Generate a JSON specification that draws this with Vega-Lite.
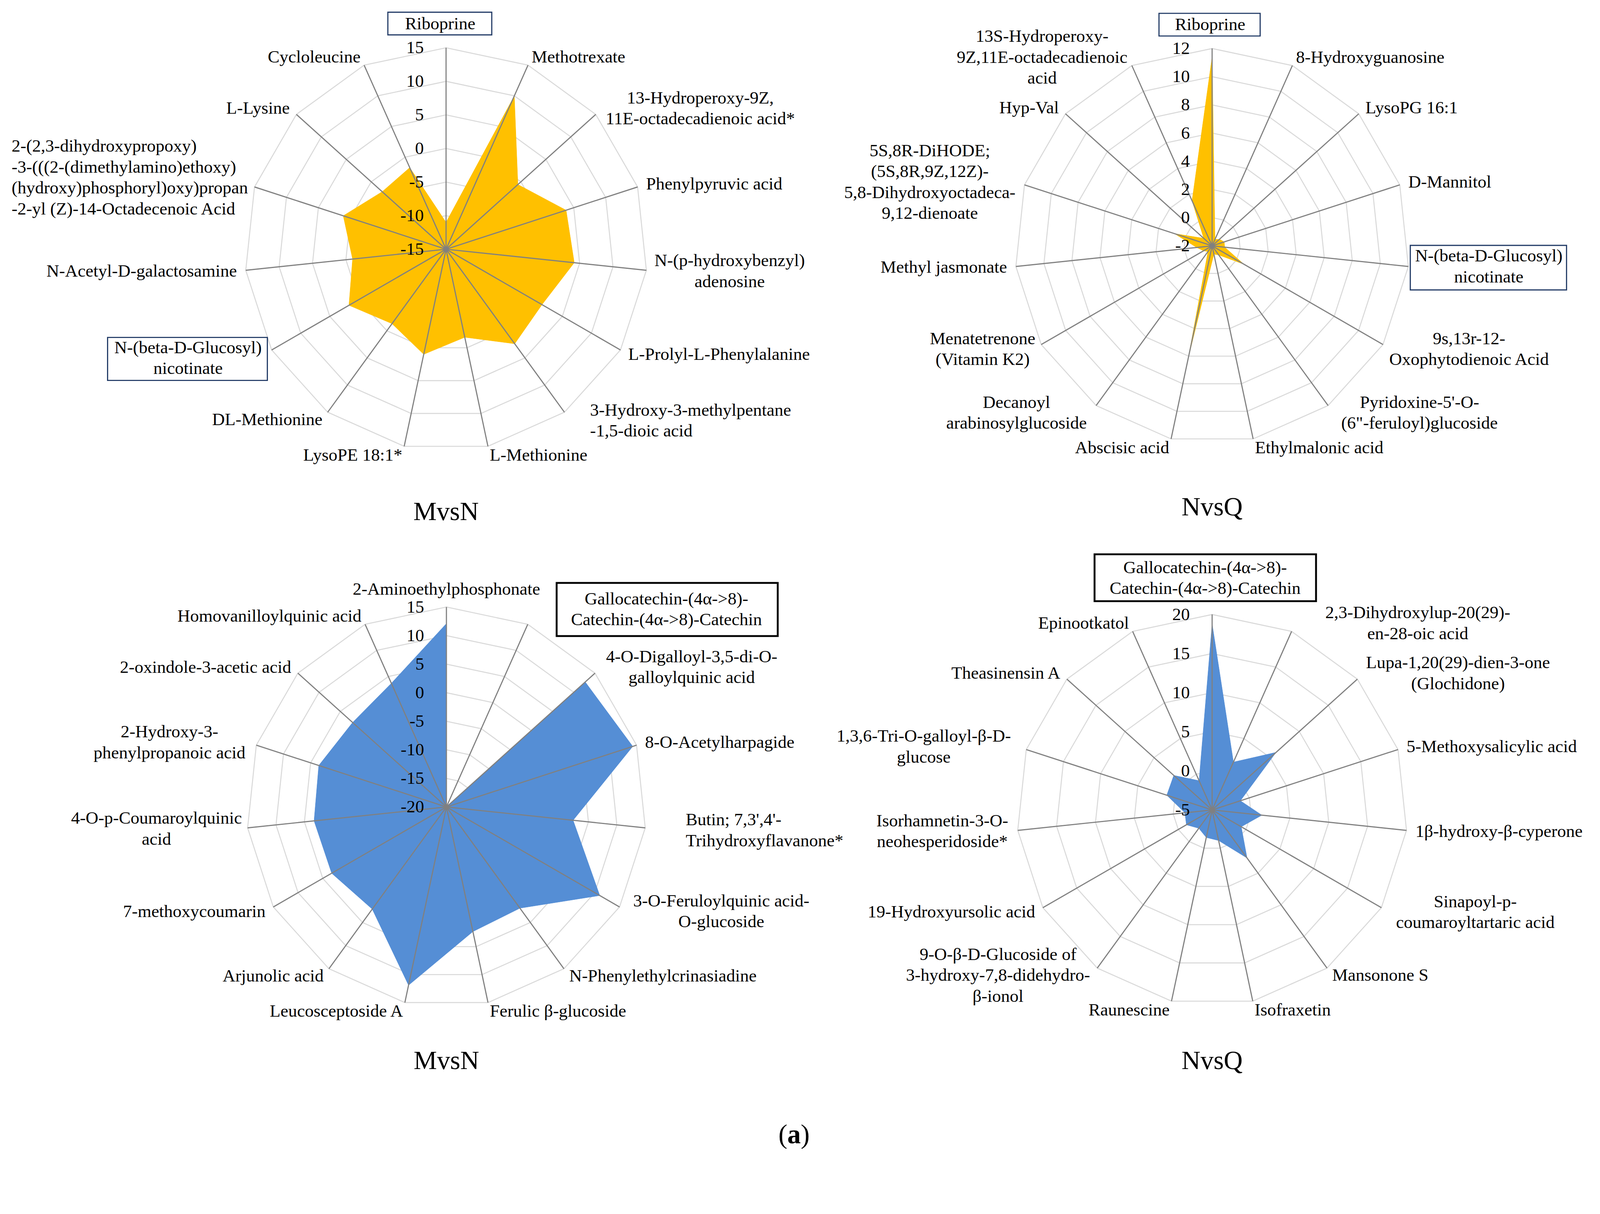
{
"$schema": "https://vega.github.io/schema/vega-lite/v6.json",
"padding": 0,
"background": "white",
"spacing": 0,
"bounds": "flush",
"columns": 2,
"config": {"view": {"stroke": null}, "text": {"font": "Liberation Serif", "fontSize": 45, "color": "#000000", "baseline": "middle", "lineBreak": "\n", "lineHeight": 53.5}},
"datasets": {
"tl": [
{"i":0,"name":"Riboprine","v":-11},
{"i":1,"name":"Methotrexate","v":10},
{"i":2,"name":"13-Hydroperoxy-9Z,\n11E-octadecadienoic acid*","v":-0.6},
{"i":3,"name":"Phenylpyruvic acid","v":3.8},
{"i":4,"name":"N-(p-hydroxybenzyl)\nadenosine","v":4.2},
{"i":5,"name":"L-Prolyl-L-Phenylalanine","v":1.5},
{"i":6,"name":"3-Hydroxy-3-methylpentane\n-1,5-dioic acid","v":2.4},
{"i":7,"name":"L-Methionine","v":-1.6},
{"i":8,"name":"LysoPE 18:1*","v":1.0},
{"i":9,"name":"DL-Methionine","v":-1.3},
{"i":10,"name":"N-(beta-D-Glucosyl)\nnicotinate","v":1.7},
{"i":11,"name":"N-Acetyl-D-galactosamine","v":-1.0},
{"i":12,"name":"2-(2,3-dihydroxypropoxy)\n-3-(((2-(dimethylamino)ethoxy)\n(hydroxy)phosphoryl)oxy)propan\n-2-yl (Z)-14-Octadecenoic Acid","v":1.1},
{"i":13,"name":"L-Lysine","v":-2.2},
{"i":14,"name":"Cycloleucine","v":-1.7}
],
"tr": [
{"i":0,"name":"Riboprine","v":11.4},
{"i":1,"name":"8-Hydroxyguanosine","v":-1.5},
{"i":2,"name":"LysoPG 16:1","v":-1.3},
{"i":3,"name":"D-Mannitol","v":-1.1},
{"i":4,"name":"N-(beta-D-Glucosyl)\nnicotinate","v":-1.1},
{"i":5,"name":"9s,13r-12-\nOxophytodienoic Acid","v":0.6},
{"i":6,"name":"Pyridoxine-5'-O-\n(6\"-feruloyl)glucoside","v":-1.2},
{"i":7,"name":"Ethylmalonic acid","v":-1.4},
{"i":8,"name":"Abscisic acid","v":6.1},
{"i":9,"name":"Decanoyl\narabinosylglucoside","v":-1.5},
{"i":10,"name":"Menatetrenone\n(Vitamin K2)","v":-1.3},
{"i":11,"name":"Methyl jasmonate","v":-0.9},
{"i":12,"name":"5S,8R-DiHODE;\n(5S,8R,9Z,12Z)-\n5,8-Dihydroxyoctadeca-\n9,12-dienoate","v":0.8},
{"i":13,"name":"Hyp-Val","v":-1.2},
{"i":14,"name":"13S-Hydroperoxy-\n9Z,11E-octadecadienoic\nacid","v":1.5}
],
"bl": [
{"i":0,"name":"2-Aminoethylphosphonate","v":12.1},
{"i":1,"name":"Gallocatechin-(4α->8)-\nCatechin-(4α->8)-Catechin","v":-20},
{"i":2,"name":"4-O-Digalloyl-3,5-di-O-\ngalloylquinic acid","v":12.7},
{"i":3,"name":"8-O-Acetylharpagide","v":14.3},
{"i":4,"name":"Butin; 7,3',4'-\nTrihydroxyflavanone*","v":2.3},
{"i":5,"name":"3-O-Feruloylquinic acid-\nO-glucoside","v":11},
{"i":6,"name":"N-Phenylethylcrinasiadine","v":1.9},
{"i":7,"name":"Ferulic β-glucoside","v":2.3},
{"i":8,"name":"Leucosceptoside A","v":11.9},
{"i":9,"name":"Arjunolic acid","v":2.1},
{"i":10,"name":"7-methoxycoumarin","v":3.2},
{"i":11,"name":"4-O-p-Coumaroylquinic\nacid","v":3.3},
{"i":12,"name":"2-Hydroxy-3-\nphenylpropanoic acid","v":3.5},
{"i":13,"name":"2-oxindole-3-acetic acid","v":2.1},
{"i":14,"name":"Homovanilloylquinic acid","v":3.7}
],
"br": [
{"i":0,"name":"Gallocatechin-(4α->8)-\nCatechin-(4α->8)-Catechin","v":18.8},
{"i":1,"name":"2,3-Dihydroxylup-20(29)-\nen-28-oic acid","v":1.7},
{"i":2,"name":"Lupa-1,20(29)-dien-3-one\n(Glochidone)","v":6.0},
{"i":3,"name":"5-Methoxysalicylic acid","v":-1.2},
{"i":4,"name":"1β-hydroxy-β-cyperone","v":1.4},
{"i":5,"name":"Sinapoyl-p-\ncoumaroyltartaric acid","v":-0.7},
{"i":6,"name":"Mansonone S","v":2.6},
{"i":7,"name":"Isofraxetin","v":-1.0},
{"i":8,"name":"Raunescine","v":-1.4},
{"i":9,"name":"9-O-β-D-Glucoside of\n3-hydroxy-7,8-didehydro-\nβ-ionol","v":-2.1},
{"i":10,"name":"19-Hydroxyursolic acid","v":-1.2},
{"i":11,"name":"Isorhamnetin-3-O-\nneohesperidoside*","v":-1.5},
{"i":12,"name":"1,3,6-Tri-O-galloyl-β-D-\nglucose","v":1.1},
{"i":13,"name":"Theasinensin A","v":1.6},
{"i":14,"name":"Epinootkatol","v":-0.9}
],
"ringsTL": [
{"ring":-15,"ks":[0,1,2,3,4,5,6,7,8,9,10,11,12,13,14]},
{"ring":-10,"ks":[0,1,2,3,4,5,6,7,8,9,10,11,12,13,14]},
{"ring":-5,"ks":[0,1,2,3,4,5,6,7,8,9,10,11,12,13,14]},
{"ring":0,"ks":[0,1,2,3,4,5,6,7,8,9,10,11,12,13,14]},
{"ring":5,"ks":[0,1,2,3,4,5,6,7,8,9,10,11,12,13,14]},
{"ring":10,"ks":[0,1,2,3,4,5,6,7,8,9,10,11,12,13,14]},
{"ring":15,"ks":[0,1,2,3,4,5,6,7,8,9,10,11,12,13,14]}
],
"ringsTR": [
{"ring":-2,"ks":[0,1,2,3,4,5,6,7,8,9,10,11,12,13,14]},
{"ring":0,"ks":[0,1,2,3,4,5,6,7,8,9,10,11,12,13,14]},
{"ring":2,"ks":[0,1,2,3,4,5,6,7,8,9,10,11,12,13,14]},
{"ring":4,"ks":[0,1,2,3,4,5,6,7,8,9,10,11,12,13,14]},
{"ring":6,"ks":[0,1,2,3,4,5,6,7,8,9,10,11,12,13,14]},
{"ring":8,"ks":[0,1,2,3,4,5,6,7,8,9,10,11,12,13,14]},
{"ring":10,"ks":[0,1,2,3,4,5,6,7,8,9,10,11,12,13,14]},
{"ring":12,"ks":[0,1,2,3,4,5,6,7,8,9,10,11,12,13,14]}
],
"ringsBL": [
{"ring":-20,"ks":[0,1,2,3,4,5,6,7,8,9,10,11,12,13,14]},
{"ring":-15,"ks":[0,1,2,3,4,5,6,7,8,9,10,11,12,13,14]},
{"ring":-10,"ks":[0,1,2,3,4,5,6,7,8,9,10,11,12,13,14]},
{"ring":-5,"ks":[0,1,2,3,4,5,6,7,8,9,10,11,12,13,14]},
{"ring":0,"ks":[0,1,2,3,4,5,6,7,8,9,10,11,12,13,14]},
{"ring":5,"ks":[0,1,2,3,4,5,6,7,8,9,10,11,12,13,14]},
{"ring":10,"ks":[0,1,2,3,4,5,6,7,8,9,10,11,12,13,14]},
{"ring":15,"ks":[0,1,2,3,4,5,6,7,8,9,10,11,12,13,14]}
],
"ringsBR": [
{"ring":-5,"ks":[0,1,2,3,4,5,6,7,8,9,10,11,12,13,14]},
{"ring":0,"ks":[0,1,2,3,4,5,6,7,8,9,10,11,12,13,14]},
{"ring":5,"ks":[0,1,2,3,4,5,6,7,8,9,10,11,12,13,14]},
{"ring":10,"ks":[0,1,2,3,4,5,6,7,8,9,10,11,12,13,14]},
{"ring":15,"ks":[0,1,2,3,4,5,6,7,8,9,10,11,12,13,14]},
{"ring":20,"ks":[0,1,2,3,4,5,6,7,8,9,10,11,12,13,14]}
]
},
"concat": [
{
"width": 2048, "height": 1375,
"encoding": {
"x": {"field": "px", "type": "quantitative", "scale": {"domain": [-2.2148, 1.7574], "nice": false, "zero": false}, "axis": null},
"y": {"field": "py", "type": "quantitative", "scale": {"domain": [-1.4296, 1.2370], "nice": false, "zero": false}, "axis": null}
},
"layer": [
{"data": {"name": "ringsTL"}, "transform": [{"flatten": ["ks"]}, {"calculate": "datum.ks*2*PI/15", "as": "ang"}, {"calculate": "(datum.ring+15)/30", "as": "rr"}, {"calculate": "datum.rr*sin(datum.ang)", "as": "px"}, {"calculate": "datum.rr*cos(datum.ang)", "as": "py"}],
 "mark": {"type": "line", "interpolate": "linear-closed", "stroke": "#D9D9D9", "strokeWidth": 2.6},
 "encoding": {"detail": {"field": "ring"}, "order": {"field": "ks"}}},
{"data": {"name": "tl"}, "transform": [{"calculate": "datum.i*2*PI/15", "as": "ang"}, {"calculate": "(datum.v+15)/30", "as": "rr"}, {"calculate": "datum.rr*sin(datum.ang)", "as": "px"}, {"calculate": "datum.rr*cos(datum.ang)", "as": "py"}],
 "mark": {"type": "line", "interpolate": "linear-closed", "fill": "#FFC000", "stroke": "#FFC000", "strokeWidth": 1},
 "encoding": {"order": {"field": "i"}}},
{"data": {"name": "tl"}, "transform": [{"calculate": "datum.i*2*PI/15", "as": "ang"}, {"calculate": "sin(datum.ang)", "as": "px"}, {"calculate": "cos(datum.ang)", "as": "py"}],
 "mark": {"type": "rule", "stroke": "#808080", "strokeWidth": 2.9},
 "encoding": {"x2": {"datum": 0}, "y2": {"datum": 0}}},
{"data": {"name": "ringsTL"}, "transform": [{"calculate": "0", "as": "px"}, {"calculate": "(datum.ring+15)/30", "as": "py"}, {"calculate": "'' + datum.ring", "as": "lbl"}],
 "mark": {"type": "text", "align": "right", "dx": -57},
 "encoding": {"text": {"field": "lbl"}}},
{"data": {"name": "tl"}, "transform": [{"filter": "datum.i>=1 && datum.i<=7 && indexof(datum.name,'\\n')<0"}, {"calculate": "datum.i*2*PI/15", "as": "ang"}, {"calculate": "sin(datum.ang)*1.04444", "as": "px"}, {"calculate": "cos(datum.ang)*1.04444", "as": "py"}],
 "mark": {"type": "text", "align": "left"}, "encoding": {"text": {"field": "name"}}},
{"data": {"name": "tl"}, "transform": [{"filter": "datum.i>=8 && indexof(datum.name,'\\n')<0"}, {"calculate": "datum.i*2*PI/15", "as": "ang"}, {"calculate": "sin(datum.ang)*1.04444", "as": "px"}, {"calculate": "cos(datum.ang)*1.04444", "as": "py"}],
 "mark": {"type": "text", "align": "right"}, "encoding": {"text": {"field": "name"}}},
{"data": {"name": "tl"}, "transform": [{"filter": "indexof(datum.name,'\\n')>=0 && datum.i!=10 && datum.i!=6 && datum.i!=12"}, {"calculate": "datum.i*2*PI/15", "as": "ang"}, {"calculate": "length(split(datum.name,'\\n'))", "as": "nl"}, {"calculate": "max(length(split(datum.name+'\\n\\n\\n','\\n')[0]),length(split(datum.name+'\\n\\n\\n','\\n')[1]),length(split(datum.name+'\\n\\n\\n','\\n')[2]),length(split(datum.name+'\\n\\n\\n','\\n')[3]))", "as": "mw"}, {"calculate": "sin(datum.ang)*1.04444+(sin(datum.ang)>0?1:-1)*datum.mw*0.019444", "as": "px"}, {"calculate": "cos(datum.ang)*1.04444+(datum.nl-1)*0.05185", "as": "py"}],
 "mark": {"type": "text", "align": "center"}, "encoding": {"text": {"field": "name"}}},
{"data": {"name": "tl"}, "transform": [{"filter": "datum.i==6"}, {"calculate": "datum.i*2*PI/15", "as": "ang"}, {"calculate": "sin(datum.ang)*1.04444", "as": "px"}, {"calculate": "cos(datum.ang)*1.04444", "as": "py"}],
 "mark": {"type": "text", "align": "left", "dx": 52, "dy": -24}, "encoding": {"text": {"field": "name"}}},
{"data": {"name": "tl"}, "transform": [{"filter": "datum.i==12"}, {"calculate": "datum.i*2*PI/15", "as": "ang"}, {"calculate": "sin(datum.ang)*1.04444", "as": "px"}, {"calculate": "cos(datum.ang)*1.04444", "as": "py"}],
 "mark": {"type": "text", "align": "left", "dx": -600, "dy": -97}, "encoding": {"text": {"field": "name"}}},
{"data": {"name": "tl"}, "transform": [{"filter": "datum.i==0"}, {"calculate": "datum.i*2*PI/15", "as": "ang"}, {"calculate": "sin(datum.ang)", "as": "px"}, {"calculate": "cos(datum.ang)", "as": "py"}],
 "mark": {"type": "text", "align": "center", "dx": -15, "dy": -61}, "encoding": {"text": {"field": "name"}}},
{"data": {"name": "tl"}, "transform": [{"filter": "datum.i==0"}, {"calculate": "datum.i*2*PI/15", "as": "ang"}, {"calculate": "sin(datum.ang)", "as": "px"}, {"calculate": "cos(datum.ang)", "as": "py"}],
 "mark": {"type": "point", "shape": "M-149,-91H117V-33H-149Z", "size": 4, "filled": false, "stroke": "#1F3864", "strokeWidth": 2.9, "opacity": 1}},
{"data": {"name": "tl"}, "transform": [{"filter": "datum.i==10"}, {"calculate": "datum.i*2*PI/15", "as": "ang"}, {"calculate": "sin(datum.ang)", "as": "px"}, {"calculate": "cos(datum.ang)", "as": "py"}],
 "mark": {"type": "text", "align": "center", "dx": -214, "dy": -6}, "encoding": {"text": {"field": "name"}}},
{"data": {"name": "tl"}, "transform": [{"filter": "datum.i==10"}, {"calculate": "datum.i*2*PI/15", "as": "ang"}, {"calculate": "sin(datum.ang)", "as": "px"}, {"calculate": "cos(datum.ang)", "as": "py"}],
 "mark": {"type": "point", "shape": "M-420,-32H-11V78H-420Z", "size": 4, "filled": false, "stroke": "#1F3864", "strokeWidth": 2.9, "opacity": 1}},
{"data": {"values": [{"t": "MvsN"}]}, "transform": [{"calculate": "0", "as": "px"}, {"calculate": "-1.3056", "as": "py"}],
 "mark": {"type": "text", "align": "center", "fontSize": 67}, "encoding": {"text": {"field": "t"}}}
]
},
{
"width": 2048, "height": 1375,
"encoding": {
"x": {"field": "px", "type": "quantitative", "scale": {"domain": [-2.0888, 1.9660], "nice": false, "zero": false}, "axis": null},
"y": {"field": "py", "type": "quantitative", "scale": {"domain": [-1.4764, 1.2457], "nice": false, "zero": false}, "axis": null}
},
"layer": [
{"data": {"name": "ringsTR"}, "transform": [{"flatten": ["ks"]}, {"calculate": "datum.ks*2*PI/15", "as": "ang"}, {"calculate": "(datum.ring+2)/14", "as": "rr"}, {"calculate": "datum.rr*sin(datum.ang)", "as": "px"}, {"calculate": "datum.rr*cos(datum.ang)", "as": "py"}],
 "mark": {"type": "line", "interpolate": "linear-closed", "stroke": "#D9D9D9", "strokeWidth": 2.6},
 "encoding": {"detail": {"field": "ring"}, "order": {"field": "ks"}}},
{"data": {"name": "tr"}, "transform": [{"calculate": "datum.i*2*PI/15", "as": "ang"}, {"calculate": "(datum.v+2)/14", "as": "rr"}, {"calculate": "datum.rr*sin(datum.ang)", "as": "px"}, {"calculate": "datum.rr*cos(datum.ang)", "as": "py"}],
 "mark": {"type": "line", "interpolate": "linear-closed", "fill": "#FFC000", "stroke": "#FFC000", "strokeWidth": 1},
 "encoding": {"order": {"field": "i"}}},
{"data": {"name": "tr"}, "transform": [{"calculate": "datum.i*2*PI/15", "as": "ang"}, {"calculate": "sin(datum.ang)", "as": "px"}, {"calculate": "cos(datum.ang)", "as": "py"}],
 "mark": {"type": "rule", "stroke": "#808080", "strokeWidth": 2.9},
 "encoding": {"x2": {"datum": 0}, "y2": {"datum": 0}}},
{"data": {"name": "ringsTR"}, "transform": [{"calculate": "0", "as": "px"}, {"calculate": "(datum.ring+2)/14", "as": "py"}, {"calculate": "'' + datum.ring", "as": "lbl"}],
 "mark": {"type": "text", "align": "right", "dx": -57},
 "encoding": {"text": {"field": "lbl"}}},
{"data": {"name": "tr"}, "transform": [{"filter": "datum.i>=1 && datum.i<=7 && indexof(datum.name,'\\n')<0"}, {"calculate": "datum.i*2*PI/15", "as": "ang"}, {"calculate": "sin(datum.ang)*1.04537", "as": "px"}, {"calculate": "cos(datum.ang)*1.04537", "as": "py"}],
 "mark": {"type": "text", "align": "left"}, "encoding": {"text": {"field": "name"}}},
{"data": {"name": "tr"}, "transform": [{"filter": "datum.i>=8 && indexof(datum.name,'\\n')<0"}, {"calculate": "datum.i*2*PI/15", "as": "ang"}, {"calculate": "sin(datum.ang)*1.04537", "as": "px"}, {"calculate": "cos(datum.ang)*1.04537", "as": "py"}],
 "mark": {"type": "text", "align": "right"}, "encoding": {"text": {"field": "name"}}},
{"data": {"name": "tr"}, "transform": [{"filter": "indexof(datum.name,'\\n')>=0 && datum.i!=4"}, {"calculate": "datum.i*2*PI/15", "as": "ang"}, {"calculate": "length(split(datum.name,'\\n'))", "as": "nl"}, {"calculate": "max(length(split(datum.name+'\\n\\n\\n','\\n')[0]),length(split(datum.name+'\\n\\n\\n','\\n')[1]),length(split(datum.name+'\\n\\n\\n','\\n')[2]),length(split(datum.name+'\\n\\n\\n','\\n')[3]))", "as": "mw"}, {"calculate": "sin(datum.ang)*1.04537+(sin(datum.ang)>0?1:-1)*datum.mw*0.019849", "as": "px"}, {"calculate": "cos(datum.ang)*1.04537+(datum.nl-1)*0.05293", "as": "py"}],
 "mark": {"type": "text", "align": "center"}, "encoding": {"text": {"field": "name"}}},
{"data": {"name": "tr"}, "transform": [{"filter": "datum.i==0"}, {"calculate": "datum.i*2*PI/15", "as": "ang"}, {"calculate": "sin(datum.ang)", "as": "px"}, {"calculate": "cos(datum.ang)", "as": "py"}],
 "mark": {"type": "text", "align": "center", "dx": -5, "dy": -61}, "encoding": {"text": {"field": "name"}}},
{"data": {"name": "tr"}, "transform": [{"filter": "datum.i==0"}, {"calculate": "datum.i*2*PI/15", "as": "ang"}, {"calculate": "sin(datum.ang)", "as": "px"}, {"calculate": "cos(datum.ang)", "as": "py"}],
 "mark": {"type": "point", "shape": "M-136,-90H123V-32H-136Z", "size": 4, "filled": false, "stroke": "#1F3864", "strokeWidth": 2.9, "opacity": 1}},
{"data": {"name": "tr"}, "transform": [{"filter": "datum.i==4"}, {"calculate": "datum.i*2*PI/15", "as": "ang"}, {"calculate": "sin(datum.ang)", "as": "px"}, {"calculate": "cos(datum.ang)", "as": "py"}],
 "mark": {"type": "text", "align": "center", "dx": 206, "dy": -27}, "encoding": {"text": {"field": "name"}}},
{"data": {"name": "tr"}, "transform": [{"filter": "datum.i==4"}, {"calculate": "datum.i*2*PI/15", "as": "ang"}, {"calculate": "sin(datum.ang)", "as": "px"}, {"calculate": "cos(datum.ang)", "as": "py"}],
 "mark": {"type": "point", "shape": "M5,-54H405V60H5Z", "size": 4, "filled": false, "stroke": "#1F3864", "strokeWidth": 2.9, "opacity": 1}},
{"data": {"values": [{"t": "NvsQ"}]}, "transform": [{"calculate": "0", "as": "px"}, {"calculate": "-1.325", "as": "py"}],
 "mark": {"type": "text", "align": "center", "fontSize": 67}, "encoding": {"text": {"field": "t"}}}
]
},
{
"width": 2048, "height": 1413,
"encoding": {
"x": {"field": "px", "type": "quantitative", "scale": {"domain": [-2.2332, 1.7687], "nice": false, "zero": false}, "axis": null},
"y": {"field": "py", "type": "quantitative", "scale": {"domain": [-1.4123, 1.3489], "nice": false, "zero": false}, "axis": null}
},
"layer": [
{"data": {"name": "ringsBL"}, "transform": [{"flatten": ["ks"]}, {"calculate": "datum.ks*2*PI/15", "as": "ang"}, {"calculate": "(datum.ring+20)/35", "as": "rr"}, {"calculate": "datum.rr*sin(datum.ang)", "as": "px"}, {"calculate": "datum.rr*cos(datum.ang)", "as": "py"}],
 "mark": {"type": "line", "interpolate": "linear-closed", "stroke": "#D9D9D9", "strokeWidth": 2.6},
 "encoding": {"detail": {"field": "ring"}, "order": {"field": "ks"}}},
{"data": {"name": "bl"}, "transform": [{"calculate": "datum.i*2*PI/15", "as": "ang"}, {"calculate": "(datum.v+20)/35", "as": "rr"}, {"calculate": "datum.rr*sin(datum.ang)", "as": "px"}, {"calculate": "datum.rr*cos(datum.ang)", "as": "py"}],
 "mark": {"type": "line", "interpolate": "linear-closed", "fill": "#558ED5", "stroke": "#558ED5", "strokeWidth": 1},
 "encoding": {"order": {"field": "i"}}},
{"data": {"name": "bl"}, "transform": [{"calculate": "datum.i*2*PI/15", "as": "ang"}, {"calculate": "sin(datum.ang)", "as": "px"}, {"calculate": "cos(datum.ang)", "as": "py"}],
 "mark": {"type": "rule", "stroke": "#808080", "strokeWidth": 2.9},
 "encoding": {"x2": {"datum": 0}, "y2": {"datum": 0}}},
{"data": {"name": "ringsBL"}, "transform": [{"calculate": "0", "as": "px"}, {"calculate": "(datum.ring+20)/35", "as": "py"}, {"calculate": "'' + datum.ring", "as": "lbl"}],
 "mark": {"type": "text", "align": "right", "dx": -57},
 "encoding": {"text": {"field": "lbl"}}},
{"data": {"name": "bl"}, "transform": [{"filter": "datum.i==0"}, {"calculate": "0", "as": "px"}, {"calculate": "1.08955", "as": "py"}],
 "mark": {"type": "text", "align": "center"}, "encoding": {"text": {"field": "name"}}},
{"data": {"name": "bl"}, "transform": [{"filter": "datum.i>=1 && datum.i<=7 && indexof(datum.name,'\\n')<0"}, {"calculate": "datum.i*2*PI/15", "as": "ang"}, {"calculate": "sin(datum.ang)*1.04478", "as": "px"}, {"calculate": "cos(datum.ang)*1.04478", "as": "py"}],
 "mark": {"type": "text", "align": "left"}, "encoding": {"text": {"field": "name"}}},
{"data": {"name": "bl"}, "transform": [{"filter": "datum.i>=8 && indexof(datum.name,'\\n')<0"}, {"calculate": "datum.i*2*PI/15", "as": "ang"}, {"calculate": "sin(datum.ang)*1.04478", "as": "px"}, {"calculate": "cos(datum.ang)*1.04478", "as": "py"}],
 "mark": {"type": "text", "align": "right"}, "encoding": {"text": {"field": "name"}}},
{"data": {"name": "bl"}, "transform": [{"filter": "indexof(datum.name,'\\n')>=0 && datum.i!=1 && datum.i!=4"}, {"calculate": "datum.i*2*PI/15", "as": "ang"}, {"calculate": "length(split(datum.name,'\\n'))", "as": "nl"}, {"calculate": "max(length(split(datum.name+'\\n\\n\\n','\\n')[0]),length(split(datum.name+'\\n\\n\\n','\\n')[1]),length(split(datum.name+'\\n\\n\\n','\\n')[2]),length(split(datum.name+'\\n\\n\\n','\\n')[3]))", "as": "mw"}, {"calculate": "sin(datum.ang)*1.04478+(sin(datum.ang)>0?1:-1)*datum.mw*0.019590", "as": "px"}, {"calculate": "cos(datum.ang)*1.04478+(datum.nl-1)*0.05224", "as": "py"}],
 "mark": {"type": "text", "align": "center"}, "encoding": {"text": {"field": "name"}}},
{"data": {"name": "bl"}, "transform": [{"filter": "datum.i==4"}, {"calculate": "datum.i*2*PI/15", "as": "ang"}, {"calculate": "sin(datum.ang)*1.04478", "as": "px"}, {"calculate": "cos(datum.ang)*1.04478", "as": "py"}],
 "mark": {"type": "text", "align": "left", "dx": 81, "dy": -23}, "encoding": {"text": {"field": "name"}}},
{"data": {"name": "bl"}, "transform": [{"filter": "datum.i==1"}, {"calculate": "datum.i*2*PI/15", "as": "ang"}, {"calculate": "sin(datum.ang)", "as": "px"}, {"calculate": "cos(datum.ang)", "as": "py"}],
 "mark": {"type": "text", "align": "center", "dx": 355, "dy": -65}, "encoding": {"text": {"field": "name"}}},
{"data": {"name": "bl"}, "transform": [{"filter": "datum.i==1"}, {"calculate": "datum.i*2*PI/15", "as": "ang"}, {"calculate": "sin(datum.ang)", "as": "px"}, {"calculate": "cos(datum.ang)", "as": "py"}],
 "mark": {"type": "point", "shape": "M74,-106H640V30H74Z", "size": 4, "filled": false, "stroke": "#000000", "strokeWidth": 4.8, "opacity": 1}},
{"data": {"values": [{"t": "MvsN"}]}, "transform": [{"calculate": "0", "as": "px"}, {"calculate": "-1.272", "as": "py"}],
 "mark": {"type": "text", "align": "center", "fontSize": 67}, "encoding": {"text": {"field": "t"}}},
{"data": {"values": [{"t": "("}]}, "transform": [{"calculate": "1.7388", "as": "px"}, {"calculate": "-1.640", "as": "py"}],
 "mark": {"type": "text", "align": "right", "dx": -17, "fontSize": 69}, "encoding": {"text": {"field": "t"}}},
{"data": {"values": [{"t": "a"}]}, "transform": [{"calculate": "1.7388", "as": "px"}, {"calculate": "-1.640", "as": "py"}],
 "mark": {"type": "text", "align": "center", "fontSize": 69, "fontWeight": "bold"}, "encoding": {"text": {"field": "t"}}},
{"data": {"values": [{"t": ")"}]}, "transform": [{"calculate": "1.7388", "as": "px"}, {"calculate": "-1.640", "as": "py"}],
 "mark": {"type": "text", "align": "left", "dx": 17, "fontSize": 69}, "encoding": {"text": {"field": "t"}}}
]
},
{
"width": 2048, "height": 1413,
"encoding": {
"x": {"field": "px", "type": "quantitative", "scale": {"domain": [-2.1088, 1.9847], "nice": false, "zero": false}, "axis": null},
"y": {"field": "py", "type": "quantitative", "scale": {"domain": [-1.4294, 1.3950], "nice": false, "zero": false}, "axis": null}
},
"layer": [
{"data": {"name": "ringsBR"}, "transform": [{"flatten": ["ks"]}, {"calculate": "datum.ks*2*PI/15", "as": "ang"}, {"calculate": "(datum.ring+5)/25", "as": "rr"}, {"calculate": "datum.rr*sin(datum.ang)", "as": "px"}, {"calculate": "datum.rr*cos(datum.ang)", "as": "py"}],
 "mark": {"type": "line", "interpolate": "linear-closed", "stroke": "#D9D9D9", "strokeWidth": 2.6},
 "encoding": {"detail": {"field": "ring"}, "order": {"field": "ks"}}},
{"data": {"name": "br"}, "transform": [{"calculate": "datum.i*2*PI/15", "as": "ang"}, {"calculate": "(datum.v+5)/25", "as": "rr"}, {"calculate": "datum.rr*sin(datum.ang)", "as": "px"}, {"calculate": "datum.rr*cos(datum.ang)", "as": "py"}],
 "mark": {"type": "line", "interpolate": "linear-closed", "fill": "#558ED5", "stroke": "#558ED5", "strokeWidth": 1},
 "encoding": {"order": {"field": "i"}}},
{"data": {"name": "br"}, "transform": [{"calculate": "datum.i*2*PI/15", "as": "ang"}, {"calculate": "sin(datum.ang)", "as": "px"}, {"calculate": "cos(datum.ang)", "as": "py"}],
 "mark": {"type": "rule", "stroke": "#808080", "strokeWidth": 2.9},
 "encoding": {"x2": {"datum": 0}, "y2": {"datum": 0}}},
{"data": {"name": "ringsBR"}, "transform": [{"calculate": "0", "as": "px"}, {"calculate": "(datum.ring+5)/25", "as": "py"}, {"calculate": "'' + datum.ring", "as": "lbl"}],
 "mark": {"type": "text", "align": "right", "dx": -57},
 "encoding": {"text": {"field": "lbl"}}},
{"data": {"name": "br"}, "transform": [{"filter": "datum.i>=1 && datum.i<=7 && indexof(datum.name,'\\n')<0"}, {"calculate": "datum.i*2*PI/15", "as": "ang"}, {"calculate": "sin(datum.ang)*1.0458", "as": "px"}, {"calculate": "cos(datum.ang)*1.0458", "as": "py"}],
 "mark": {"type": "text", "align": "left"}, "encoding": {"text": {"field": "name"}}},
{"data": {"name": "br"}, "transform": [{"filter": "datum.i>=8 && indexof(datum.name,'\\n')<0"}, {"calculate": "datum.i*2*PI/15", "as": "ang"}, {"calculate": "sin(datum.ang)*1.0458", "as": "px"}, {"calculate": "cos(datum.ang)*1.0458", "as": "py"}],
 "mark": {"type": "text", "align": "right"}, "encoding": {"text": {"field": "name"}}},
{"data": {"name": "br"}, "transform": [{"filter": "indexof(datum.name,'\\n')>=0 && datum.i!=0 && datum.i!=1"}, {"calculate": "datum.i*2*PI/15", "as": "ang"}, {"calculate": "length(split(datum.name,'\\n'))", "as": "nl"}, {"calculate": "max(length(split(datum.name+'\\n\\n\\n','\\n')[0]),length(split(datum.name+'\\n\\n\\n','\\n')[1]),length(split(datum.name+'\\n\\n\\n','\\n')[2]),length(split(datum.name+'\\n\\n\\n','\\n')[3]))", "as": "mw"}, {"calculate": "sin(datum.ang)*1.0458+(sin(datum.ang)>0?1:-1)*datum.mw*0.020038", "as": "px"}, {"calculate": "cos(datum.ang)*1.0458+(datum.nl-1)*0.05344", "as": "py"}],
 "mark": {"type": "text", "align": "center"}, "encoding": {"text": {"field": "name"}}},
{"data": {"name": "br"}, "transform": [{"filter": "datum.i==1"}, {"calculate": "datum.i*2*PI/15", "as": "ang"}, {"calculate": "length(split(datum.name,'\\n'))", "as": "nl"}, {"calculate": "max(length(split(datum.name+'\\n\\n\\n','\\n')[0]),length(split(datum.name+'\\n\\n\\n','\\n')[1]),length(split(datum.name+'\\n\\n\\n','\\n')[2]),length(split(datum.name+'\\n\\n\\n','\\n')[3]))", "as": "mw"}, {"calculate": "sin(datum.ang)*1.0458+(sin(datum.ang)>0?1:-1)*datum.mw*0.020038", "as": "px"}, {"calculate": "cos(datum.ang)*1.0458+(datum.nl-1)*0.05344", "as": "py"}],
 "mark": {"type": "text", "align": "center", "dx": 73}, "encoding": {"text": {"field": "name"}}},
{"data": {"name": "br"}, "transform": [{"filter": "datum.i==0"}, {"calculate": "datum.i*2*PI/15", "as": "ang"}, {"calculate": "sin(datum.ang)", "as": "px"}, {"calculate": "cos(datum.ang)", "as": "py"}],
 "mark": {"type": "text", "align": "center", "dx": -18, "dy": -120}, "encoding": {"text": {"field": "name"}}},
{"data": {"name": "br"}, "transform": [{"filter": "datum.i==0"}, {"calculate": "datum.i*2*PI/15", "as": "ang"}, {"calculate": "sin(datum.ang)", "as": "px"}, {"calculate": "cos(datum.ang)", "as": "py"}],
 "mark": {"type": "point", "shape": "M-301,-154H266V-34H-301Z", "size": 4, "filled": false, "stroke": "#000000", "strokeWidth": 4.8, "opacity": 1}},
{"data": {"values": [{"t": "NvsQ"}]}, "transform": [{"calculate": "0", "as": "px"}, {"calculate": "-1.286", "as": "py"}],
 "mark": {"type": "text", "align": "center", "fontSize": 67}, "encoding": {"text": {"field": "t"}}}
]
}
]
}
